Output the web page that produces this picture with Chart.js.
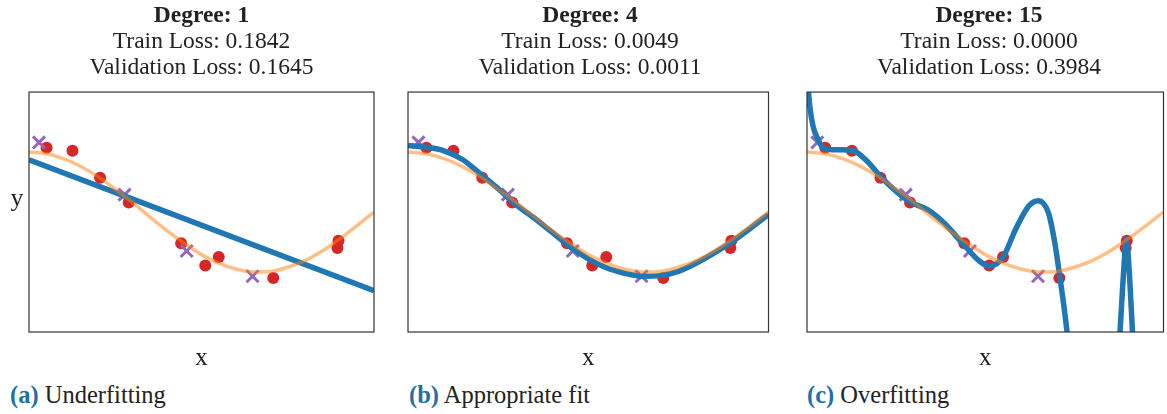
<!DOCTYPE html>
<html>
<head>
<meta charset="utf-8">
<script src="https://cdn.jsdelivr.net/npm/chart.js@4.4.1/dist/chart.umd.min.js"></script>
<style>
  html, body { margin: 0; padding: 0; background: #fff; overflow: hidden; }
  #page { width: 1167px; height: 414px; overflow: hidden; position: relative; }
  .panel { position: absolute; top: 0; height: 374px; overflow: hidden; }
  .cap { position: absolute; top: 381px; font-family: "Liberation Serif", serif; font-size: 24.5px; color: #222; white-space: nowrap; }
  .cap b { color: #1f6fa8; }
</style>
</head>
<body>
<div id="page">
  <div class="panel" style="left:0px;width:390px"><canvas id="c1" width="390" height="374"></canvas></div>
  <div class="panel" style="left:395px;width:385px"><canvas id="c2" width="385" height="374"></canvas></div>
  <div class="panel" style="left:790px;width:377px"><canvas id="c3" width="385" height="374"></canvas></div>
  <div class="cap" style="left:10px"><b>(a)</b> Underfitting</div>
  <div class="cap" style="left:409px"><b>(b)</b> Appropriate fit</div>
  <div class="cap" style="left:807px"><b>(c)</b> Overfitting</div>
</div>
<script>
// true function
const trueX = [0, 0.05, 0.1, 0.15, 0.2, 0.25, 0.3, 0.35, 0.4, 0.45, 0.5, 0.55, 0.6, 0.65, 0.7, 0.75, 0.8, 0.85, 0.9, 0.95, 1];
const trueY = [1.0, 0.97, 0.89, 0.76, 0.59, 0.38, 0.16, -0.08, -0.31, -0.52, -0.71, -0.85, -0.95, -1.0, -0.99, -0.92, -0.81, -0.65, -0.45, -0.23, 0.0];

// training points (red) and validation points (purple)
const trainX = [0.051, 0.126, 0.206, 0.289, 0.441, 0.511, 0.550, 0.708, 0.897, 0.894];
const trainY = [1.07, 1.02, 0.57, 0.16, -0.52, -0.89, -0.75, -1.10, -0.48, -0.60];
const valX = [0.029, 0.277, 0.457, 0.648];
const valY = [1.16, 0.29, -0.65, -1.07];

// model predictions
const deg1X = [0, 1];
const deg1Y = [0.87, -1.31];
const deg4X = trueX;
const deg4Y = [1.11, 1.08, 1.02, 0.88, 0.64, 0.39, 0.12, -0.10, -0.34, -0.58, -0.78, -0.93, -1.02, -1.07, -1.06, -0.99, -0.85, -0.68, -0.49, -0.27, -0.04];
const deg15X = [0, 0.008, 0.017, 0.031, 0.045, 0.072, 0.1, 0.127, 0.164, 0.21, 0.255, 0.292, 0.338, 0.384, 0.439, 0.484, 0.512, 0.549, 0.585, 0.622, 0.649, 0.677, 0.695, 0.709, 0.723, 0.735, 0.76, 0.8, 0.84, 0.865, 0.878, 0.887, 0.896, 0.905, 0.913, 0.925, 0.95, 1];
const deg15Y = [2.3, 1.76, 1.43, 1.21, 1.07, 1.04, 1.04, 1.03, 0.875, 0.57, 0.32, 0.16, 0.04, -0.18, -0.54, -0.82, -0.90, -0.76, -0.29, 0.10, 0.19, -0.01, -0.51, -1.07, -1.68, -2.3, -4, -6, -5, -3.2, -2.0, -1.1, -0.45, -1.1, -2.0, -3.5, -6, -8];

const titles = [
  ['Degree: 1', 'Train Loss: 0.1842', 'Validation Loss: 0.1645'],
  ['Degree: 4', 'Train Loss: 0.0049', 'Validation Loss: 0.0011'],
  ['Degree: 15', 'Train Loss: 0.0000', 'Validation Loss: 0.3984']
];

Chart.defaults.font.family = '"Liberation Serif", "DejaVu Serif", serif';
Chart.defaults.color = '#222';

const pts = (xs, ys) => xs.map((x, i) => ({ x: x, y: ys[i] }));

// box around the plot area
const frame = {
  id: 'frame',
  afterDatasetsDraw(chart) {
    const a = chart.chartArea, ctx = chart.ctx;
    ctx.save();
    ctx.strokeStyle = '#333';
    ctx.lineWidth = 1.2;
    ctx.strokeRect(a.left, a.top, a.right - a.left, a.bottom - a.top);
    ctx.restore();
  }
};

// upright "y" label, only for the first panel
const yLabel = {
  id: 'yLabel',
  afterDraw(chart) {
    const ctx = chart.ctx;
    ctx.save();
    ctx.font = '26px "Liberation Serif", serif';
    ctx.fillStyle = '#222';
    ctx.textAlign = 'center';
    ctx.textBaseline = 'alphabetic';
    ctx.fillText('y', 17, 206);
    ctx.restore();
  }
};

function makeChart(id, t, modelX, modelY, pad, extra) {
  return new Chart(document.getElementById(id), {
    type: 'scatter',
    data: {
      datasets: [
        { data: pts(trueX, trueY), showLine: true, borderColor: 'rgba(255,127,14,0.5)', borderWidth: 3.5,
          pointRadius: 0, cubicInterpolationMode: 'monotone', clip: 0, order: 0 },
        { data: pts(modelX, modelY), showLine: true, borderColor: '#1f77b4', borderWidth: 5.5,
          pointRadius: 0, cubicInterpolationMode: 'monotone', clip: 0, order: 1 },
        { data: pts(valX, valY), pointStyle: 'crossRot', pointRadius: 8.5, borderColor: '#9467bd',
          pointBorderWidth: 3, clip: 0, order: 2 },
        { data: pts(trainX, trainY), pointStyle: 'circle', pointRadius: 6, backgroundColor: '#d62728',
          borderWidth: 0, pointBorderWidth: 0, clip: 0, order: 3 }
      ]
    },
    options: {
      responsive: false,
      animation: false,
      events: [],
      layout: { padding: pad },
      plugins: {
        legend: { display: false },
        tooltip: { enabled: false },
        title: { display: true, text: t[0], font: { size: 23.5, weight: 'bold', lineHeight: 1.1 },
          padding: { top: 3, bottom: 0 } },
        subtitle: { display: true, text: [t[1], t[2]], font: { size: 23.5, lineHeight: 1.1 },
          padding: { top: 0, bottom: 11.5 } }
      },
      scales: {
        x: { type: 'linear', min: 0, max: 1, grid: { display: false, drawTicks: false },
          border: { display: false }, ticks: { display: false },
          title: { display: true, text: 'x', font: { size: 25, lineHeight: 1.2 }, padding: { top: 11.5, bottom: 0.5 } } },
        y: { type: 'linear', min: -2, max: 2, display: false }
      }
    },
    plugins: extra
  });
}

makeChart('c1', titles[0], deg1X, deg1Y, { left: 29, right: 16 }, [frame, yLabel]);
makeChart('c2', titles[1], deg4X, deg4Y, { left: 13, right: 8 }, [frame]);
makeChart('c3', titles[2], deg15X, deg15Y, { left: 17, right: 4 }, [frame]);
</script>
</body>
</html>
